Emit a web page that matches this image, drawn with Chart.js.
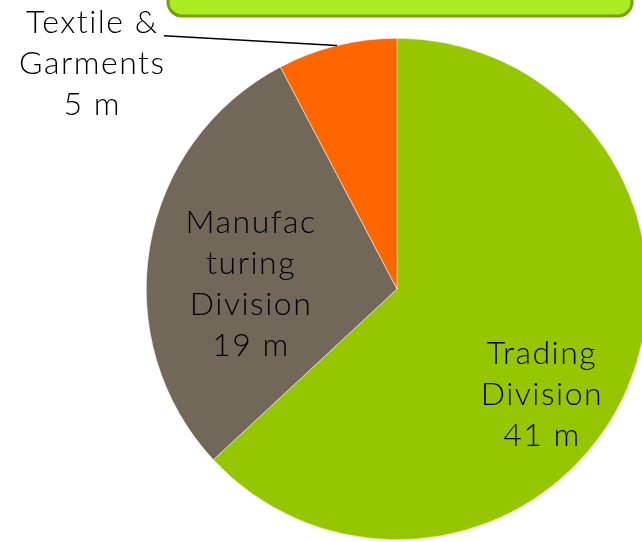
<!DOCTYPE html>
<html>
<head>
<meta charset="utf-8">
<script src="https://cdn.jsdelivr.net/npm/chart.js@4"></script>
<style>
    html, body { margin: 0; padding: 0; background: #ffffff; overflow: hidden; }
    #wrap { position: relative; width: 700px; height: 542px; }
</style>
</head>
<body>
<div id="wrap"><canvas id="divChart"></canvas></div>
<script>
// data (millions)
const divisions = ["Trading Division", "Manufacturing Division", "Textile & Garments"];
const revenue = [41, 19, 5];
const sliceColors = ["#95C600", "#71685A", "#FF6600"];

// label lines and where they sit, in units of the pie radius from its centre
const labelLines = [
    ["Trading", "Division", "41 m"],
    ["Manufac", "turing", "Division", "19 m"],
    ["Textile &", "Garments", "5 m"]
];
const labelOffsets = [[0.578, 0.422], [-0.582, -0.02], [-1.215, -0.90]];

const labelFont = "300 32px Lato, 'DejaVu Sans', sans-serif";

const headerBox = {
    id: "headerBox",
    beforeDraw(chart) {
        const c = chart.ctx;
        c.save();
        c.beginPath();
        c.roundRect(168, -29, 464, 45, 14);
        c.fillStyle = "#ACEA22";
        c.fill();
        c.lineWidth = 3;
        c.strokeStyle = "#72A00C";
        c.stroke();
        c.restore();
    }
};

const sliceLabels = {
    id: "sliceLabels",
    afterDatasetsDraw(chart) {
        const c = chart.ctx;
        const arcs = chart.getDatasetMeta(0).data;
        const cx = arcs[0].x, cy = arcs[0].y, r = arcs[0].outerRadius;
        const lh = 41;
        c.save();
        c.font = labelFont;
        c.letterSpacing = "1.5px";
        c.fillStyle = "#000000";
        c.textAlign = "center";
        c.textBaseline = "middle";
        labelLines.forEach((lines, i) => {
            const x = cx + labelOffsets[i][0] * r;
            const y = cy + labelOffsets[i][1] * r;
            lines.forEach((t, k) => {
                c.fillText(t, x, y + (k - (lines.length - 1) / 2) * lh);
            });
        });
        // leader line for the small slice
        const a = arcs[2];
        const mid = a.startAngle + (a.endAngle - a.startAngle) * 0.5;
        c.beginPath();
        c.moveTo(cx - 0.93 * r, cy - 1.01 * r);
        c.lineTo(cx + Math.cos(mid) * r, cy + Math.sin(mid) * r);
        c.lineWidth = 1.5;
        c.strokeStyle = "#000000";
        c.stroke();
        c.restore();
    }
};

const ctx = document.getElementById("divChart");

new Chart(ctx, {
    type: "pie",
    data: {
        labels: divisions,
        datasets: [{
            data: revenue,
            backgroundColor: sliceColors,
            borderColor: "#ffffff",
            borderWidth: 0.5
        }]
    },
    options: {
        responsive: true,
        maintainAspectRatio: false,
        animation: false,
        layout: {
            padding: { left: 146, right: 52, top: 38, bottom: 2 }
        },
        plugins: {
            legend: { display: false },
            tooltip: { enabled: false }
        }
    },
    plugins: [headerBox, sliceLabels]
});
</script>
</body>
</html>
